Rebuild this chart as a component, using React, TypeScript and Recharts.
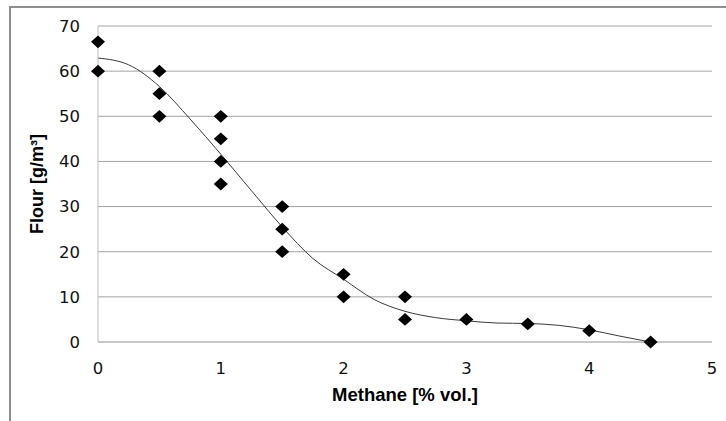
import React from 'react';
import { ComposedChart, Scatter, Line, XAxis, YAxis, CartesianGrid } from 'recharts';

const methane = [0, 0, 0.5, 0.5, 0.5, 1, 1, 1, 1, 1.5, 1.5, 1.5, 2, 2, 2.5, 2.5, 3, 3.5, 4, 4.5];
const flour = [66.5, 60, 60, 55, 50, 50, 45, 40, 35, 30, 25, 20, 15, 10, 10, 5, 5, 4, 2.5, 0];

const trendX = [0, 0.25, 0.5, 0.75, 1, 1.25, 1.5, 1.75, 2, 2.25, 2.5, 2.75, 3, 3.25, 3.5, 3.75, 4, 4.25, 4.5];
const trendY = [62.9, 61.4, 56.6, 49.4, 41.6, 33.5, 25.5, 18.5, 13.9, 9.4, 6.8, 5.4, 4.7, 4.2, 4.1, 3.7, 2.7, 1.3, 0];

const xTicks = [0, 1, 2, 3, 4, 5];
const yTicks = [0, 10, 20, 30, 40, 50, 60, 70];

const points = methane.map((x, i) => ({ x, y: flour[i] }));
const trend = trendX.map((x, i) => ({ x, y: trendY[i] }));

const Diamond = (props: any) => {
  const { cx, cy } = props;
  if (cx == null || cy == null) return null;
  const w = 7;
  const h = 6.4;
  return (
    <polygon
      points={`${cx},${cy - h} ${cx + w},${cy} ${cx},${cy + h} ${cx - w},${cy}`}
      fill="#000"
    />
  );
};

const XTitle = (props: any) => {
  const vb = props.viewBox || {};
  return (
    <text
      x={vb.x + vb.width / 2}
      y={401}
      textAnchor="middle"
      fontFamily="'Liberation Sans', Arial, sans-serif"
      fontWeight="bold"
      fontSize={18.5}
      fill="#000"
    >
      Methane [% vol.]
    </text>
  );
};

const YTitle = (props: any) => {
  const vb = props.viewBox || {};
  const cy = vb.y + vb.height / 2;
  const cx = 37;
  return (
    <text
      x={cx}
      y={cy}
      transform={`rotate(-90 ${cx} ${cy})`}
      textAnchor="middle"
      dominantBaseline="central"
      fontFamily="'Liberation Sans', Arial, sans-serif"
      fontWeight="bold"
      fontSize={18}
      fill="#000"
    >
      Flour [g/m³]
    </text>
  );
};

const tickStyle = { fontFamily: "'DejaVu Sans', sans-serif", fontSize: 16.5, fill: '#111' };

export default function App() {
  return (
    <div style={{ position: 'absolute', left: 0, top: 0, width: 726, height: 421, overflow: 'hidden', background: '#fff' }}>
      <ComposedChart
        width={726}
        height={421}
        margin={{ top: 26, right: 14, bottom: 29, left: 0 }}
      >
        <CartesianGrid vertical={false} stroke="#a3a3a3" strokeWidth={1} />
        <XAxis
          type="number"
          dataKey="x"
          domain={[0, 5]}
          ticks={xTicks}
          height={50}
          tickLine={false}
          tickSize={0}
          tickMargin={20}
          axisLine={{ stroke: '#bdbdbd' }}
          tick={tickStyle}
          label={<XTitle />}
        />
        <YAxis
          type="number"
          dataKey="y"
          domain={[0, 70]}
          ticks={yTicks}
          width={98}
          tickLine={false}
          tickSize={0}
          tickMargin={18}
          axisLine={{ stroke: '#bdbdbd' }}
          tick={tickStyle}
          label={<YTitle />}
        />
        <Line
          data={trend}
          dataKey="y"
          type="monotone"
          stroke="#3a3a3a"
          strokeWidth={1}
          dot={false}
          activeDot={false}
          isAnimationActive={false}
        />
        <Scatter
          data={points}
          dataKey="y"
          shape={<Diamond />}
          isAnimationActive={false}
        />
      </ComposedChart>
      <div
        style={{
          position: 'absolute',
          left: 9,
          top: 6,
          width: 900,
          height: 600,
          borderTop: '2px solid #8f8f8f',
          borderLeft: '2px solid #8f8f8f',
          pointerEvents: 'none',
        }}
      />
    </div>
  );
}
